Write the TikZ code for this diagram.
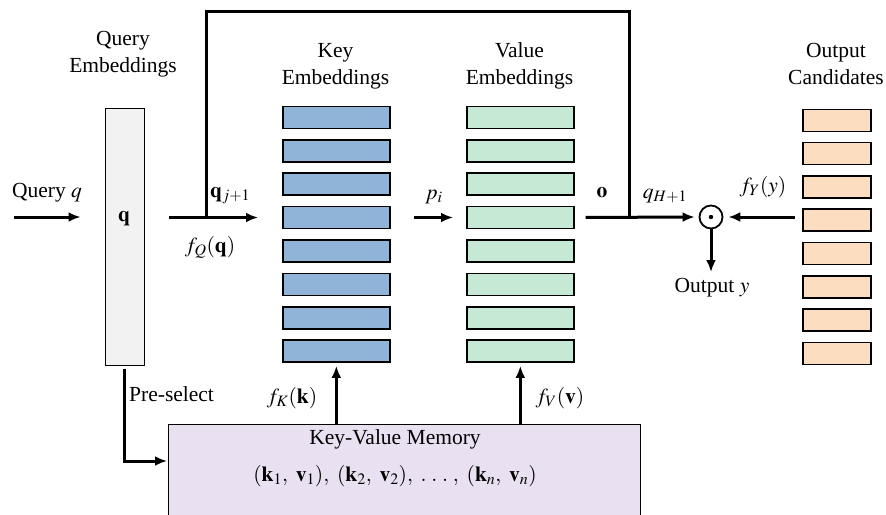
\documentclass[tikz,border=0pt]{standalone}
\usepackage{mathptmx}
\usepackage[no-math]{fontspec}
\setmainfont{Liberation Serif}
\usetikzlibrary{arrows.meta}
\definecolor{keyc}{HTML}{8FB4D8}
\definecolor{valc}{HTML}{C6E9D6}
\definecolor{outc}{HTML}{FDDDC0}
\definecolor{qc}{HTML}{F2F2F2}
\definecolor{memc}{HTML}{E9E1F1}
\begin{document}
\begin{tikzpicture}[x=1pt,y=-1pt,
  every node/.style={font=\fontsize{21.5}{27}\selectfont, inner sep=0pt},
  bar/.style={draw, line width=1.6pt, minimum width=107pt, minimum height=22pt, anchor=north west},
  obar/.style={draw, line width=1.6pt, minimum width=68pt, minimum height=22pt, anchor=north west},
  conn/.style={line width=3pt, -{Latex[length=12pt,width=10pt]}},
  wire/.style={line width=3pt, line join=miter},
  lbl/.style={anchor=base}]
\clip (0,0) rectangle (886,514);
% query embedding box
\node[draw, fill=qc, line width=1.6pt, minimum width=39pt, minimum height=257pt, anchor=north west] (qe) at (104.5,107.5) {};
\node[lbl] (qtxt) at (124,221) {$\mathbf{q}$};
% key / value / output bars
\foreach \i in {1,...,8}{
  \node[bar, fill=keyc] (key\i) at (282,{105.5+(\i-1)*33.4}) {};
  \node[bar, fill=valc] (val\i) at (466,{105.5+(\i-1)*33.4}) {};
  \node[obar, fill=outc] (out\i) at (802,{108.5+(\i-1)*33.3}) {};
}
% memory
\node[draw, fill=memc, line width=1.8pt, minimum width=472pt, minimum height=110pt, anchor=north west] (mem) at (167.5,423.5) {};
% product circle
\node[circle, draw, line width=1.8pt, minimum size=23pt] (circ) at (711,217) {};
\fill (circ.center) circle (2.2pt);
% coordinates
\coordinate (qin) at (14,217);
\coordinate (fbL) at (206,217);
\coordinate (fbR) at (629,217);
\coordinate (fbT) at (629,11);
\coordinate (outy) at (711,272);
\coordinate (psin) at (167,461);
% connectors
\draw[conn, shorten >=24pt] (qin) -- (qe.west |- qin);
\draw[conn, shorten <=24pt, shorten >=24pt] (qe.east |- key4) -- (key4.west);
\draw[wire] (fbR) -- (fbT) -| (fbL);
\draw[conn, shorten <=23pt, shorten >=13pt] (key4.east) -- (val4.west);
\draw[conn, shorten <=11pt, shorten >=4pt] (val4.east) -- (circ.west);
\draw[conn, shorten <=7pt, shorten >=5pt] (circ.east -| out4.west) -- (circ.east);
\draw[conn] (circ.south) -- (outy);
\draw[conn, shorten >=3pt] (mem.north -| key8.south) -- (key8.south);
\draw[conn, shorten >=3pt] (mem.north -| val8.south) -- (val8.south);
\draw[conn, shorten <=3pt] (qe.south) |- (psin);
% labels
\node[lbl] (lq) at (47,197) {Query $q$};
\node[align=center] (lqe) at (123,54) {Query\\Embeddings};
\node[align=center] (lke) at (335.5,66) {Key\\Embeddings};
\node[align=center] (lve) at (519.5,66) {Value\\Embeddings};
\node[align=center] (loc) at (836,64) {Output\\Candidates};
\node[lbl, anchor=base west] (lqj) at (210,197) {$\mathbf{q}_{j+1}$};
\node[lbl] (lfq) at (210,252) {$f_Q(\mathbf{q})$};
\node[lbl] (lp) at (434,199) {$p_i$};
\node[lbl] (lo) at (602,197) {$\mathbf{o}$};
\node[lbl] (lqh) at (665,198) {$q_{H+1}$};
\node[lbl] (lfy) at (763,192) {$f_Y(y)$};
\node[lbl] (loy) at (712,292) {Output $y$};
\node[lbl] (lfk) at (292,403) {$f_K(\mathbf{k})$};
\node[lbl] (lfv) at (560,403) {$f_V(\mathbf{v})$};
\node[lbl, anchor=base west] (lps) at (129,401) {Pre-select};
\node[lbl] (lkv) at (395,444) {Key-Value Memory};
\node[lbl] (lkvs) at (395,481) {$(\mathbf{k}_1,\ \mathbf{v}_1),\ (\mathbf{k}_2,\ \mathbf{v}_2),\ .\;.\;.\;,\ (\mathbf{k}_n,\ \mathbf{v}_n)$};
\end{tikzpicture}
\end{document}
